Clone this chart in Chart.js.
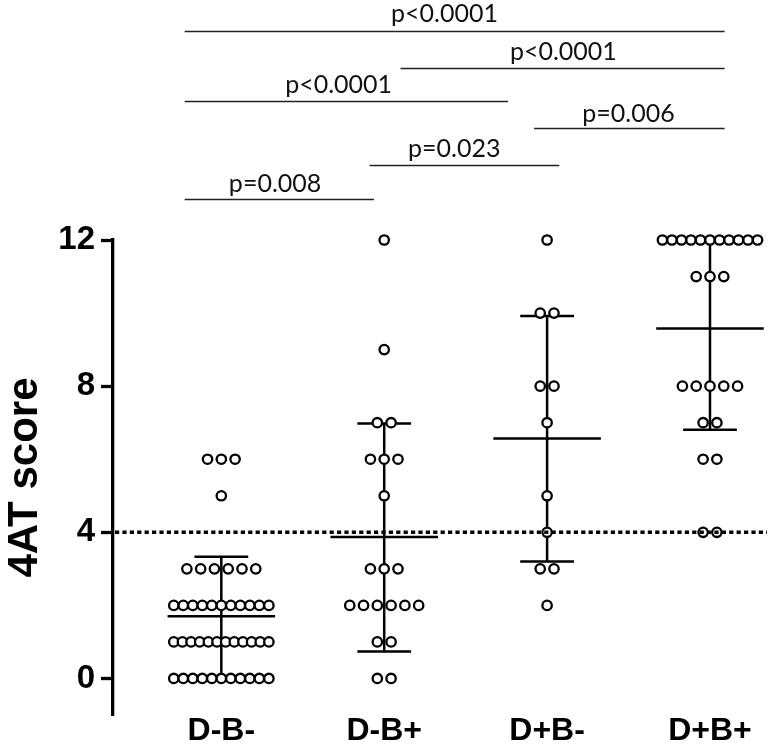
<!DOCTYPE html>
<html>
<head>
<meta charset="utf-8">
<title>4AT score by group</title>
<script src="https://cdn.jsdelivr.net/npm/chart.js@4.4.1/dist/chart.umd.min.js"></script>
<style>
  html, body { margin: 0; padding: 0; background: #fff; }
  #wrap { width: 774px; height: 746px; }
</style>
</head>
<body>
<div id="wrap"><canvas id="dotPlot" width="774" height="746"></canvas></div>
<script>
// groups on the x axis
const groups = ['D-B-', 'D-B+', 'D+B-', 'D+B+'];

// individual 4AT scores, one array per group
const scoresDBm = [0, 0, 0, 0, 0, 0, 0, 0, 0, 0, 0,
                   1, 1, 1, 1, 1, 1, 1, 1, 1, 1, 1, 1,
                   2, 2, 2, 2, 2, 2, 2, 2, 2, 2, 2,
                   3, 3, 3, 3, 3, 3,
                   5, 6, 6, 6];
const scoresDBp = [0, 0, 1, 1, 2, 2, 2, 2, 2, 2, 3, 3, 3, 5, 6, 6, 6, 7, 7, 9, 12];
const scoresDpBm = [2, 3, 3, 4, 5, 7, 8, 8, 10, 10, 12];
const scoresDpBp = [4, 4, 6, 6, 7, 7, 8, 8, 8, 8, 8, 11, 11, 11,
                    12, 12, 12, 12, 12, 12, 12, 12, 12, 12, 12];

// mean and SD whisker ends as drawn
const means = [1.70, 3.87, 6.57, 9.58];
const sdLow = [0.07, 0.74, 3.20, 6.81];
const sdHigh = [3.33, 6.98, 9.92, 12];

const yTicks = [0, 4, 8, 12];
const cutoff = 4;
const pLabels = ['p<0.0001', 'p<0.0001', 'p<0.0001', 'p=0.006', 'p=0.023', 'p=0.008'];

const allScores = [scoresDBm, scoresDBp, scoresDpBm, scoresDpBp];

// layout constants (x in group units, y in score units)
const DOT_STEP = 0.0846;   // gap between dots in a row
const MAX_ROW = 0.584;     // widest a row may get before dots overlap
const MEAN_HALF = 0.33;
const CAP_HALF = 0.165;
const bracketPos = [
  { x1: -0.225, x2: 3.09, y: 17.72, tx: 1.37, ty: 18.18 },
  { x1: 1.10, x2: 3.09, y: 16.71, tx: 2.10, ty: 17.15 },
  { x1: -0.225, x2: 1.76, y: 15.80, tx: 0.72, ty: 16.24 },
  { x1: 1.92, x2: 3.09, y: 15.07, tx: 2.50, ty: 15.45 },
  { x1: 0.91, x2: 2.075, y: 14.05, tx: 1.43, ty: 14.49 },
  { x1: -0.225, x2: 0.937, y: 13.12, tx: 0.33, ty: 13.53 }
];

// spread equal scores side by side like a column scatter plot
function swarm(values, groupIndex) {
  const rows = {};
  values.forEach(v => (rows[v] = rows[v] || []).push(v));
  const pts = [];
  Object.keys(rows).forEach(k => {
    const n = rows[k].length;
    const step = n > 1 ? Math.min(DOT_STEP, MAX_ROW / (n - 1)) : 0;
    rows[k].forEach((v, j) => pts.push({ x: groupIndex + (j - (n - 1) / 2) * step, y: v }));
  });
  return pts;
}

const overlay = {
  id: 'overlay',
  beforeDatasetsDraw(chart) {
    const { ctx, scales: { x, y } } = chart;
    ctx.save();
    ctx.strokeStyle = '#000';
    ctx.lineWidth = 2.5;
    groups.forEach((g, i) => {
      const cx = x.getPixelForValue(i);
      const mw = x.getPixelForValue(i + MEAN_HALF) - cx;
      const cw = x.getPixelForValue(i + CAP_HALF) - cx;
      const m = y.getPixelForValue(means[i]);
      const lo = y.getPixelForValue(sdLow[i]);
      const hi = y.getPixelForValue(sdHigh[i]);
      ctx.beginPath();
      ctx.moveTo(cx, hi); ctx.lineTo(cx, lo);
      ctx.moveTo(cx - cw, hi); ctx.lineTo(cx + cw, hi);
      ctx.moveTo(cx - cw, lo); ctx.lineTo(cx + cw, lo);
      ctx.moveTo(cx - mw, m); ctx.lineTo(cx + mw, m);
      ctx.stroke();
    });
    ctx.restore();
  },
  afterDatasetsDraw(chart) {
    // dotted cut-off line at 4
    const { ctx, chartArea, scales: { y } } = chart;
    const py = y.getPixelForValue(cutoff);
    ctx.save();
    ctx.strokeStyle = '#000';
    ctx.lineWidth = 3.6;
    ctx.setLineDash([4.2, 3.2]);
    ctx.beginPath();
    ctx.moveTo(chartArea.left + 2, py);
    ctx.lineTo(chartArea.right, py);
    ctx.stroke();
    ctx.restore();
  },
  afterDraw(chart) {
    // significance brackets above the plot
    const { ctx, scales: { x, y } } = chart;
    ctx.save();
    ctx.strokeStyle = '#222';
    ctx.lineWidth = 1.3;
    ctx.fillStyle = '#111';
    ctx.font = '25px Lato, "Open Sans", sans-serif';
    ctx.textAlign = 'center';
    ctx.textBaseline = 'middle';
    bracketPos.forEach((b, i) => {
      const py = Math.round(y.getPixelForValue(b.y)) + 0.5;
      ctx.beginPath();
      ctx.moveTo(x.getPixelForValue(b.x1), py);
      ctx.lineTo(x.getPixelForValue(b.x2), py);
      ctx.stroke();
      ctx.fillText(pLabels[i], x.getPixelForValue(b.tx), y.getPixelForValue(b.ty));
    });
    ctx.restore();
  }
};

const boldFont = size => ({ family: '"Liberation Sans", Arial, sans-serif', weight: 'bold', size: size });

new Chart(document.getElementById('dotPlot'), {
  type: 'scatter',
  data: {
    datasets: allScores.map((vals, i) => ({
      label: groups[i],
      data: swarm(vals, i),
      pointRadius: 4.7,
      pointHoverRadius: 4.7,
      borderWidth: 2.3,
      pointBackgroundColor: '#fff',
      pointBorderColor: '#000',
      clip: false
    }))
  },
  options: {
    responsive: false,
    animation: false,
    devicePixelRatio: 1,
    layout: { padding: { top: 240, right: 2, left: 0, bottom: 0 } },
    plugins: { legend: { display: false }, tooltip: { enabled: false } },
    scales: {
      x: {
        type: 'linear',
        min: -0.665,
        max: 3.35,
        afterBuildTicks: s => { s.ticks = groups.map((g, i) => ({ value: i })); },
        afterFit: s => { s.height = 31; },
        grid: { display: false, drawTicks: false },
        border: { display: false },
        ticks: {
          callback: (v, i) => groups[i],
          autoSkip: false,
          maxRotation: 0,
          padding: -3,
          color: '#000',
          font: boldFont(32)
        }
      },
      y: {
        min: -1,
        max: 12,
        afterBuildTicks: s => { s.ticks = yTicks.map(v => ({ value: v })); },
        afterFit: s => { s.width = 113; },
        border: { display: true, width: 3.3, color: '#000' },
        grid: { drawOnChartArea: false, drawTicks: true, tickLength: 12, tickWidth: 3.3, tickColor: '#000' },
        ticks: { padding: 6, color: '#000', font: boldFont(33) },
        title: { display: true, text: '4AT score', color: '#000', padding: 0, font: boldFont(42) }
      }
    }
  },
  plugins: [overlay]
});
</script>
</body>
</html>
